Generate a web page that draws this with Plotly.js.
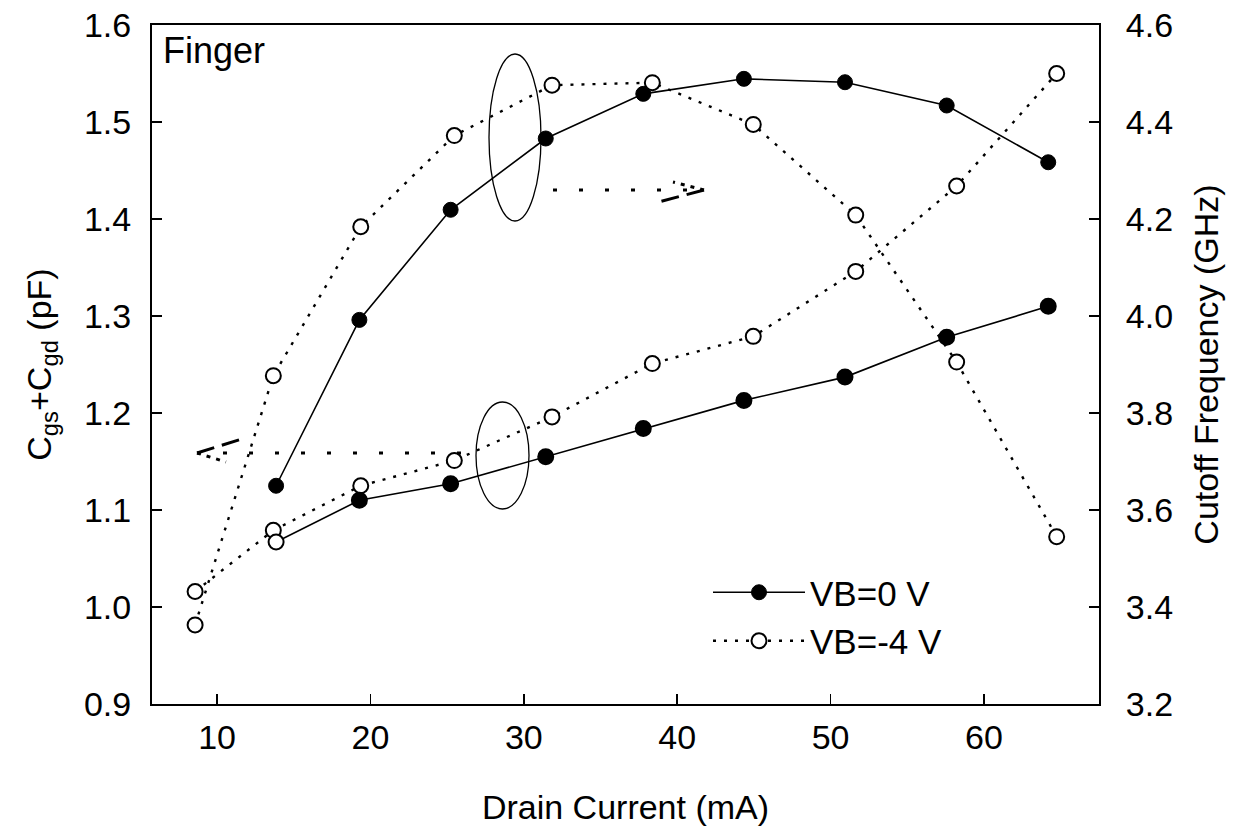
<!DOCTYPE html>
<html>
<head>
<meta charset="utf-8">
<script src="https://cdn.plot.ly/plotly-3.0.1.min.js"></script>
<style>html,body{margin:0;padding:0;background:#fff;}#chart{width:1250px;height:834px;}</style>
</head>
<body>
<div id="chart"></div>
<script>
// Drain current (mA)
const currentVB0 = [13.85, 19.28, 25.23, 31.43, 37.79, 44.35, 50.94, 57.57, 64.19];
const currentVBm4 = [8.57, 13.67, 19.37, 25.47, 31.84, 38.38, 44.96, 51.64, 58.22, 64.74];
// Cutoff frequency (GHz), right axis
const ftVB0 = [3.650, 3.992, 4.219, 4.366, 4.458, 4.489, 4.482, 4.434, 4.317];
const ftVBm4 = [3.363, 3.877, 4.184, 4.372, 4.476, 4.481, 4.395, 4.208, 3.905, 3.545];
// Cgs+Cgd (pF), left axis
const capVB0 = [1.067, 1.110, 1.127, 1.155, 1.184, 1.213, 1.237, 1.278, 1.310];
const capVBm4 = [1.016, 1.079, 1.125, 1.151, 1.196, 1.251, 1.279, 1.346, 1.434, 1.550];
const xTicks = [10, 20, 30, 40, 50, 60];
const seriesNames = ['VB=0 V', 'VB=-4 V'];

const FONT = 'Liberation Sans, Arial, Helvetica, sans-serif';
const L = 152, R = 1099, T = 25, B = 704;
const px = v => (v - L) / (R - L);
const py = v => (B - v) / (B - T);

const solid = {color: '#000', width: 1.6};
const dotted = {color: '#000', width: 2.4, dash: '3px,8px'};
const filledM = {symbol: 'circle', size: 15, color: '#000', line: {color: '#000', width: 1}};
const openM = {symbol: 'circle', size: 15, color: '#fff', line: {color: '#000', width: 2}};

const traces = [
  {x: currentVB0, y: ftVB0, yaxis: 'y2', mode: 'lines+markers', name: seriesNames[0],
   line: solid, marker: filledM, showlegend: true, legendrank: 1},
  {x: currentVBm4, y: ftVBm4, yaxis: 'y2', mode: 'lines+markers', name: seriesNames[1],
   line: dotted, marker: openM, showlegend: true, legendrank: 2},
  {x: currentVBm4, y: capVBm4, yaxis: 'y', mode: 'lines+markers', name: seriesNames[1],
   line: dotted, marker: openM, showlegend: false},
  {x: currentVB0, y: capVB0, yaxis: 'y', mode: 'lines+markers', name: seriesNames[0],
   line: solid, marker: Object.assign({}, filledM, {color: capVB0.map((v, i) => i === 0 ? '#fff' : '#000'), line: {color: '#000', width: 2}}), showlegend: false}
];

function seg(x0, y0, x1, y1, dash, w) {
  return {type: 'line', xref: 'paper', yref: 'paper', x0: px(x0), y0: py(y0), x1: px(x1), y1: py(y1),
          line: {color: '#000', width: w || 3, dash: dash}};
}
const shapes = [
  {type: 'circle', xref: 'paper', yref: 'paper', x0: px(489), x1: px(541), y0: py(221), y1: py(54), line: {color: '#000', width: 1.3}},
  {type: 'circle', xref: 'paper', yref: 'paper', x0: px(476), x1: px(529), y0: py(509), y1: py(402), line: {color: '#000', width: 1.3}},
  seg(553, 190, 704, 190, '4px,22px'),
  seg(704, 190, 673, 182, '4px,6px'),
  seg(704, 190, 655, 203, '18px,8px'),
  seg(197, 453, 475, 453, '4px,22px'),
  seg(197, 453, 242, 439, '18px,8px'),
  seg(197, 453, 226, 462, '4px,6px')
];

const axisCommon = {
  showline: true, linecolor: '#000', linewidth: 2, ticks: 'inside', ticklen: 10, tickwidth: 1.5, tickcolor: '#000',
  showgrid: false, zeroline: false, tickfont: {family: FONT, size: 34, color: '#000'}
};

const layout = {
  width: 1250, height: 834,
  margin: {l: L, r: 1250 - R, t: T, b: 834 - B},
  paper_bgcolor: '#fff', plot_bgcolor: '#fff',
  font: {family: FONT, color: '#000'},
  xaxis: Object.assign({}, axisCommon, {
    range: [5.76, 67.5], tickvals: xTicks, mirror: true, ticklabelstandoff: 2,
    title: {text: 'Drain Current (mA)', font: {family: FONT, size: 34}, standoff: 40}
  }),
  yaxis: Object.assign({}, axisCommon, {
    range: [0.9, 1.6], dtick: 0.1, tick0: 0.9, tickformat: '.1f', ticklabelstandoff: 12,
    title: {text: 'C<sub>gs</sub>+C<sub>gd</sub> (pF)', font: {family: FONT, size: 34}, standoff: 22}
  }),
  yaxis2: Object.assign({}, axisCommon, {
    overlaying: 'y', side: 'right', range: [3.2, 4.6], dtick: 0.2, tick0: 3.2, tickformat: '.1f', ticklabelstandoff: 18,
    title: {text: 'Cutoff Frequency (GHz)', font: {family: FONT, size: 34}, standoff: 22}
  }),
  legend: {x: px(708), y: py(563), xanchor: 'left', yanchor: 'top', bgcolor: 'rgba(0,0,0,0)',
           font: {family: FONT, size: 35, color: '#000'}, itemwidth: 92, tracegroupgap: 0},
  shapes: shapes,
  annotations: [
    {text: 'Finger', xref: 'paper', yref: 'paper', x: px(161), y: py(28), xanchor: 'left', yanchor: 'top',
     showarrow: false, font: {family: FONT, size: 36, color: '#000'}}
  ]
};

Plotly.newPlot('chart', traces, layout, {displayModeBar: false, staticPlot: true});
</script>
</body>
</html>
